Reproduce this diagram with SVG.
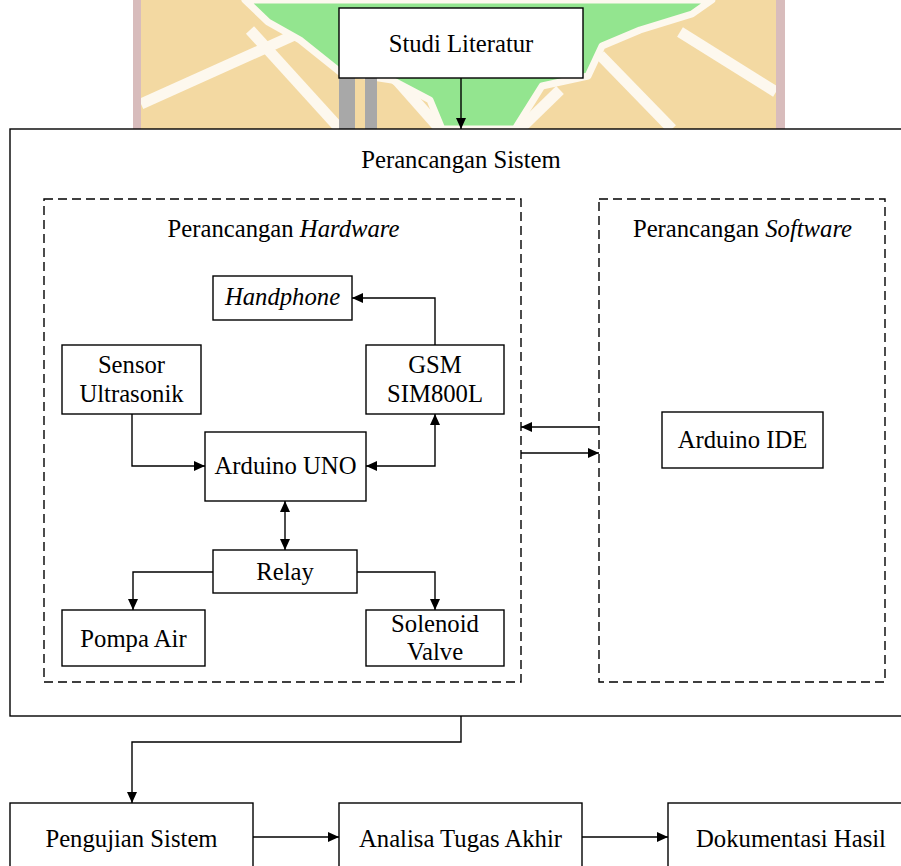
<svg xmlns="http://www.w3.org/2000/svg" width="901" height="866" viewBox="0 0 901 866">
<defs>
<style>
.box{fill:#fff;stroke:#000;stroke-width:1.4}
.dash{fill:none;stroke:#000;stroke-width:1.4;stroke-dasharray:9 5}
.ln{fill:none;stroke:#000;stroke-width:1.4}
.t{font-size:24.7px;fill:#000;text-anchor:middle}
.i{font-style:italic}
</style>
<marker id="ah" markerUnits="userSpaceOnUse" markerWidth="12" markerHeight="10" refX="11" refY="5" orient="auto-start-reverse">
<path d="M0,0 L11,5 L0,10 z" fill="#000"/>
</marker>
<clipPath id="wmclip"><rect x="0" y="0" width="901" height="129"/></clipPath>
</defs>
<rect width="901" height="866" fill="#fff"/>
<g id="watermark" clip-path="url(#wmclip)">
<rect x="141" y="0" width="635" height="129" fill="#f3d9a2"/>
<g stroke="#fdf8ee" stroke-width="11" fill="none">
<line x1="141" y1="104" x2="310" y2="28"/>
<line x1="250" y1="30" x2="340" y2="129"/>
<line x1="395" y1="78" x2="440" y2="129"/>
<line x1="560" y1="90" x2="520" y2="129"/>
<line x1="600" y1="55" x2="672" y2="129"/>
<line x1="680" y1="32" x2="776" y2="92"/>
</g>
<path d="M245,0 L712,0 L692,14 L640,30 L602,46 L588,76 L542,86 L515,129 L442,129 L430,100 L392,80 L340,72 L300,40 L268,22 Z" fill="#93e58f" stroke="#fdf8ee" stroke-width="7" stroke-linejoin="round"/>
<rect x="133" y="0" width="8" height="129" fill="#d8bcbc"/>
<rect x="776" y="0" width="9" height="129" fill="#d8bcbc"/>
<rect x="339" y="70" width="16" height="59" fill="#a8a8a8"/>
<rect x="365" y="70" width="12" height="59" fill="#a8a8a8"/>
</g>
<g font-family="'Liberation Serif', 'Times New Roman', Tinos, 'DejaVu Serif', serif">
<g id="perancangan-sistem">
<rect class="box" x="10" y="129" width="1000" height="587" stroke-width="1.6"/>
<text class="t" x="461" y="168">Perancangan Sistem</text>
</g>
<g id="perancangan-hardware">
<rect class="dash" x="44" y="199" width="477" height="483"/>
<text class="t" x="283.5" y="237">Perancangan <tspan class="i">Hardware</tspan></text>
</g>
<g id="perancangan-software">
<rect class="dash" x="599" y="199" width="286" height="483"/>
<text class="t" x="742.5" y="237">Perancangan <tspan class="i">Software</tspan></text>
</g>
<g id="studi-literatur">
<rect class="box" x="339" y="8" width="244" height="70"/>
<text class="t" x="461" y="52">Studi Literatur</text>
</g>
<g id="handphone">
<rect class="box" x="213" y="276" width="139" height="44"/>
<text class="t i" x="282.5" y="305">Handphone</text>
</g>
<g id="sensor-ultrasonik">
<rect class="box" x="62" y="345" width="139" height="69"/>
<text class="t" x="131.5" y="373">Sensor</text>
<text class="t" x="131.5" y="402">Ultrasonik</text>
</g>
<g id="gsm-sim800l">
<rect class="box" x="366" y="345" width="138" height="69"/>
<text class="t" x="435" y="373">GSM</text>
<text class="t" x="435" y="402">SIM800L</text>
</g>
<g id="arduino-uno">
<rect class="box" x="205" y="432" width="161" height="69"/>
<text class="t" x="285.5" y="474">Arduino UNO</text>
</g>
<g id="relay">
<rect class="box" x="213" y="550" width="144" height="43"/>
<text class="t" x="285" y="580">Relay</text>
</g>
<g id="pompa-air">
<rect class="box" x="62" y="610" width="143" height="56"/>
<text class="t" x="133.5" y="647">Pompa Air</text>
</g>
<g id="solenoid-valve">
<rect class="box" x="366" y="610" width="138" height="56"/>
<text class="t" x="435" y="632">Solenoid</text>
<text class="t" x="435" y="660">Valve</text>
</g>
<g id="arduino-ide">
<rect class="box" x="662" y="412" width="161" height="56"/>
<text class="t" x="742.5" y="448">Arduino IDE</text>
</g>
<g id="pengujian-sistem">
<rect class="box" x="10" y="803" width="243" height="90"/>
<text class="t" x="131.5" y="847">Pengujian Sistem</text>
</g>
<g id="analisa-tugas-akhir">
<rect class="box" x="339" y="803" width="243" height="90"/>
<text class="t" x="460.5" y="847">Analisa Tugas Akhir</text>
</g>
<g id="dokumentasi-hasil">
<rect class="box" x="668" y="803" width="246" height="90"/>
<text class="t" x="791" y="847">Dokumentasi Hasil</text>
</g>
</g>
<g id="connectors">
<path class="ln" d="M461,78 L461,129" marker-end="url(#ah)"/>
<path class="ln" d="M435,345 L435,298 L352,298" marker-end="url(#ah)"/>
<path class="ln" d="M132,414 L132,466 L205,466" marker-end="url(#ah)"/>
<path class="ln" d="M366,466 L435,466 L435,414" marker-start="url(#ah)" marker-end="url(#ah)"/>
<path class="ln" d="M285,501 L285,550" marker-start="url(#ah)" marker-end="url(#ah)"/>
<path class="ln" d="M213,572 L133,572 L133,610" marker-end="url(#ah)"/>
<path class="ln" d="M357,572 L435,572 L435,610" marker-end="url(#ah)"/>
<path class="ln" d="M599,427 L521,427" marker-end="url(#ah)"/>
<path class="ln" d="M521,453 L599,453" marker-end="url(#ah)"/>
<path class="ln" d="M461,716 L461,742 L132,742 L132,803" marker-end="url(#ah)"/>
<path class="ln" d="M253,837 L339,837" marker-end="url(#ah)"/>
<path class="ln" d="M582,837 L668,837" marker-end="url(#ah)"/>
</g>
</svg>
